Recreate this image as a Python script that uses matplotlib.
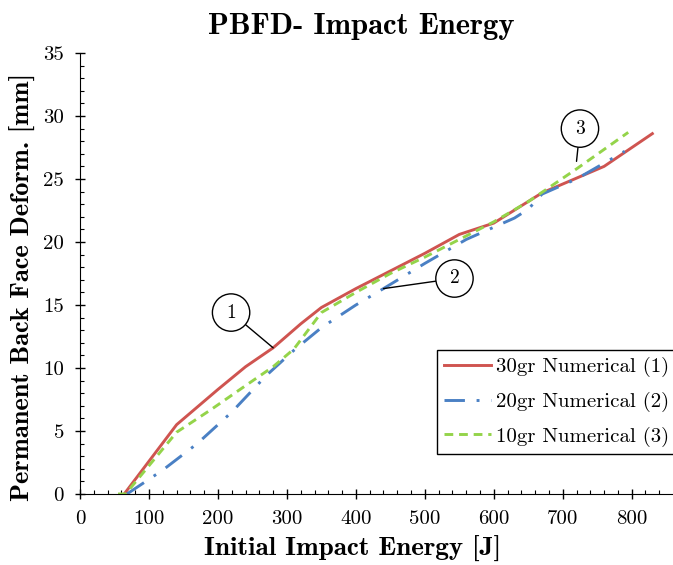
#!/usr/bin/env python3

import matplotlib
matplotlib.use("Agg")
import matplotlib.pyplot as plt
from matplotlib.ticker import MultipleLocator

# impact energy [J] vs permanent back face deformation [mm]
e_30 = [64, 140, 200, 240, 280, 320, 350, 400, 450, 500, 550, 600, 670, 760, 830]
d_30 = [0, 5.5, 8.3, 10.1, 11.6, 13.5, 14.8, 16.3, 17.7, 19.1, 20.6, 21.5, 23.9, 26.0, 28.6]

e_20 = [68, 120, 170, 220, 270, 310, 350, 400, 440, 500, 560, 630, 650, 670, 720, 790]
d_20 = [0, 1.9, 4.0, 6.5, 9.4, 11.4, 13.2, 15.0, 16.3, 18.3, 20.2, 21.9, 22.6, 23.8, 25.0, 27.2]

e_10 = [55, 66, 140, 190, 240, 280, 310, 350, 400, 450, 500, 550, 600, 650, 720, 795]
d_10 = [0, 0, 4.9, 6.7, 8.6, 10.1, 11.5, 14.4, 16.0, 17.5, 18.8, 20.2, 21.6, 23.2, 25.8, 28.7]

labels = ['30gr Numerical (1)', '20gr Numerical (2)', '10gr Numerical (3)']

fig = plt.figure(figsize=(6.73, 5.65), dpi=100)
ax = fig.add_axes([0.119, 0.1257, 0.879, 0.7805])

ax.plot(e_30, d_30, color='#cf5450', linewidth=2.1, label=labels[0])
ax.plot(e_20, d_20, color='#4a80c4', linewidth=2.1, dashes=(7, 4, 1, 4), label=labels[1])
ax.plot(e_10, d_10, color='#94d44a', linewidth=2.1, dashes=(3, 2), label=labels[2])

ax.set_xlim(0, 858)
ax.set_ylim(0, 35)
ax.xaxis.set_major_locator(MultipleLocator(100))
ax.xaxis.set_minor_locator(MultipleLocator(20))
ax.yaxis.set_major_locator(MultipleLocator(5))
ax.yaxis.set_minor_locator(MultipleLocator(1))
ax.tick_params(which='major', direction='inout', length=7, width=1.0, labelsize=15, pad=8)
ax.tick_params(which='minor', direction='in', length=3, width=0.8)
for lab in ax.get_xticklabels() + ax.get_yticklabels():
    lab.set_fontfamily('cmr10')

for s in ['top', 'right']:
    ax.spines[s].set_visible(False)

ax.set_title('PBFD- Impact Energy', fontfamily='cmb10', fontsize=22, pad=14, x=0.476)
ax.set_xlabel('Initial Impact Energy [J]', fontfamily='cmb10', fontsize=19.5)
ax.set_ylabel('Permanent Back Face Deform. [mm]', fontfamily='cmb10', fontsize=19)
ax.xaxis.set_label_coords(0.46, -0.095)
ax.yaxis.set_label_coords(-0.074, 0.47)

# numbered callouts
circ = dict(boxstyle='circle,pad=0.5', fc='white', ec='black', lw=1.0)
arr = dict(arrowstyle='-', color='black', lw=1.0, shrinkA=0, shrinkB=0)
ax.annotate('1', xy=(280, 11.6), xytext=(219, 14.4), ha='center', va='center',
            fontfamily='cmr10', fontsize=14, bbox=circ, arrowprops=arr)
ax.annotate('2', xy=(440, 16.3), xytext=(543, 17.1), ha='center', va='center',
            fontfamily='cmr10', fontsize=14, bbox=circ, arrowprops=arr)
ax.annotate('3', xy=(720, 26.4), xytext=(725, 29.0), ha='center', va='center',
            fontfamily='cmr10', fontsize=14, bbox=circ, arrowprops=arr)

leg = ax.legend(loc='upper left', bbox_to_anchor=(0.603, 0.327), fancybox=False,
                edgecolor='black', framealpha=1, handlelength=2.25, handletextpad=0.25,
                borderpad=0.35, borderaxespad=0, labelspacing=0.7,
                prop={'family': 'cmr10', 'size': 15})
leg.get_frame().set_linewidth(1.0)

plt.savefig('out.png', dpi=100)
